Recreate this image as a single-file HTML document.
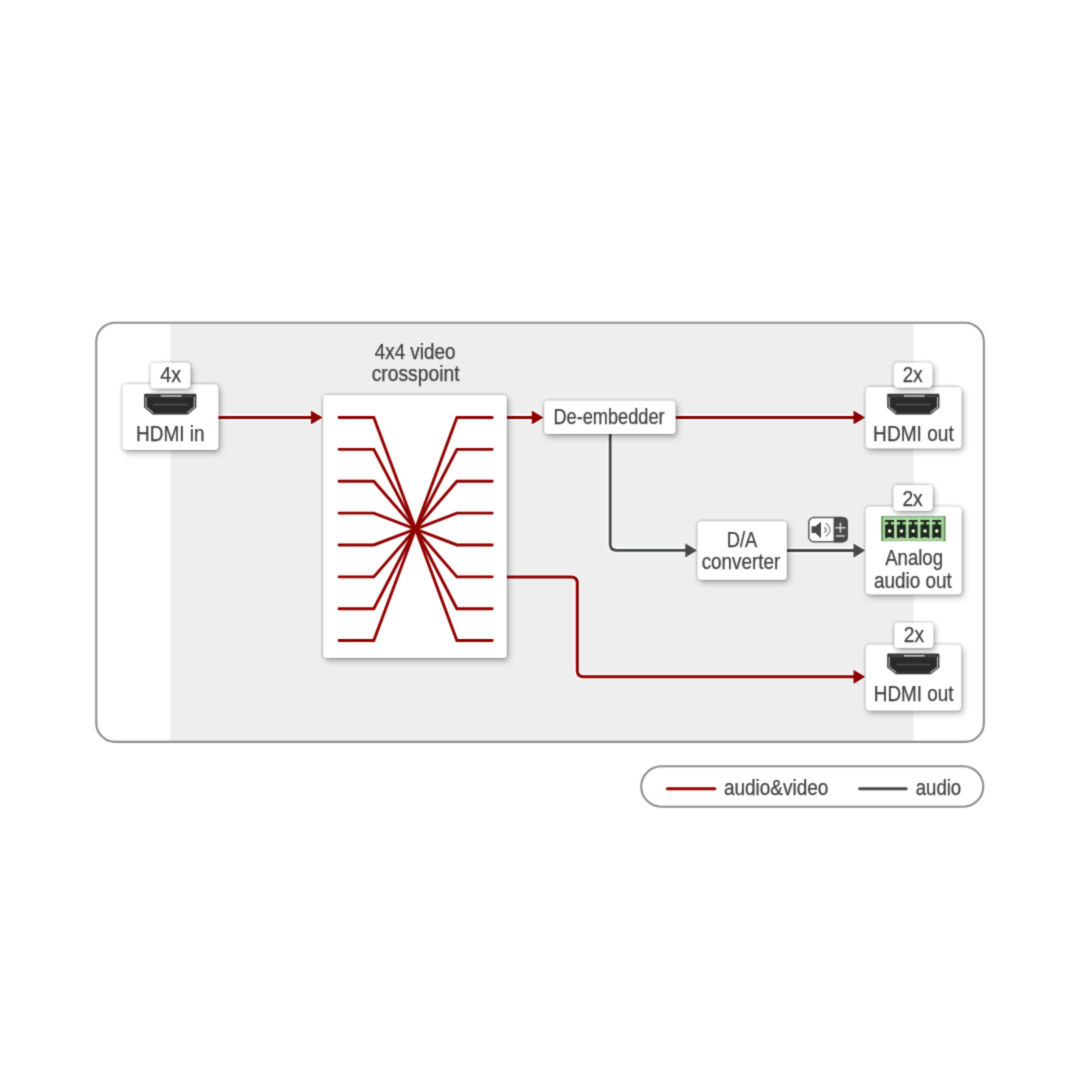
<!DOCTYPE html>
<html><head><meta charset="utf-8">
<style>
html,body{margin:0;padding:0;background:#fff;width:1080px;height:1080px;overflow:hidden}
svg{display:block;position:absolute;left:0;top:0}
#wrap{position:absolute;left:0;top:0;width:1080px;height:1080px}
text{font-family:"Liberation Sans",sans-serif;font-size:22px;fill:#404040;stroke:#404040;stroke-width:0.25px}
</style></head><body><div id="wrap">
<svg width="1080" height="1080" viewBox="0 0 1080 1080">
<defs>
  <filter id="soft" x="0" y="0" width="1080" height="1080" filterUnits="userSpaceOnUse" color-interpolation-filters="sRGB"><feConvolveMatrix order="3" kernelMatrix="1 4 1 4 16 4 1 4 1" divisor="36" edgeMode="none"/></filter>
  <filter id="sh" x="-30%" y="-30%" width="160%" height="160%">
    <feGaussianBlur in="SourceAlpha" stdDeviation="1.5" result="b1"/>
    <feOffset in="b1" dx="0" dy="0.2" result="o1"/>
    <feComponentTransfer in="o1" result="c1"><feFuncA type="linear" slope="0.4"/></feComponentTransfer>
    <feGaussianBlur in="SourceAlpha" stdDeviation="3" result="b2"/>
    <feOffset in="b2" dx="1.5" dy="2.5" result="o2"/>
    <feComponentTransfer in="o2" result="c2"><feFuncA type="linear" slope="0.3"/></feComponentTransfer>
    <feMerge><feMergeNode in="c2"/><feMergeNode in="c1"/><feMergeNode in="SourceGraphic"/></feMerge>
  </filter>
  <g id="hdmi">
    <path d="M1.3,0 H50.9 Q52.2,0 52.2,1.3 V13.9 L43.7,20.7 H8.5 L0,13.9 V1.3 Q0,0 1.3,0 Z" fill="#333"/>
    <path d="M3.4,4 H48.8 V13 L42.2,18.2 H10 L3.4,13 Z" fill="#2a2a2a"/>
    <path d="M1.9,3.2 V13.5 L9.2,19.2" fill="none" stroke="#b8b8b8" stroke-width="1.1"/>
    <path d="M50.3,3.2 V13.5 L43,19.2" fill="none" stroke="#b8b8b8" stroke-width="1.1"/>
    <rect x="16.6" y="1.4" width="21" height="1.6" fill="#c6c6c6"/>
    <path d="M3,2.4 H15 M39.2,2.4 H49.2" stroke="#5a5a5a" stroke-width="0.9"/>
    <path d="M9,10.9 H43.5" stroke="#4e4e4e" stroke-width="1.6"/>
    <path d="M19,5 V9 M26.1,5 V9 M33.2,5 V9 M19,13 V18 M26.1,13 V18 M33.2,13 V18" stroke="#333" stroke-width="0.8"/>
  </g>
  <g id="term">
    <rect x="0" y="0" width="64" height="25.2" fill="#9fd08e" stroke="#6b9a62" stroke-width="1"/>
  </g>
</defs>

<g filter="url(#soft)">
<!-- outer frame -->
<rect x="170.5" y="323.8" width="743.1" height="417" fill="#eeeeee"/>
<rect x="96.25" y="322.8" width="887.6" height="419.1" rx="19" ry="19" fill="none" stroke="#8e8e8e" stroke-width="2.1"/>

<!-- connection lines: halos -->
<g fill="none" stroke="#f8fcfc" stroke-width="6.4" stroke-opacity="1">
  <path d="M218,417.5 H312"/>
  <path d="M507,417.5 H532"/>
  <path d="M675.4,417.5 H854"/>
  <path d="M507,576.9 H571 Q577.3,576.9 577.3,583 V670.5 Q577.3,676.8 583.5,676.8 H854"/>
  <path d="M610.2,434 V544 Q610.2,550.3 616.5,550.3 H686"/>
  <path d="M786.8,550.5 H854"/>
</g>
<path d="M322.6,417.5 L310.90,410.40 V424.60 Z M543.5,417.5 L531.80,410.40 V424.60 Z M865.2,417.5 L853.50,410.40 V424.60 Z M865.2,676.8 L853.50,669.70 V683.90 Z M697,550.4 L685.30,543.30 V557.50 Z M865.2,550.6 L853.50,543.50 V557.70 Z" fill="#f8fcfc" stroke="#f8fcfc" stroke-width="2.6" stroke-linejoin="round"/>
<g fill="none" stroke="#8c0000" stroke-width="3">
  <path d="M218,417.5 H314"/>
  <path d="M507,417.5 H534"/>
  <path d="M675.4,417.5 H856"/>
  <path d="M507,576.9 H571 Q577.3,576.9 577.3,583 V670.5 Q577.3,676.8 583.5,676.8 H856"/>
</g>
<g fill="none" stroke="#474747" stroke-width="2.8">
  <path d="M610.2,434 V544 Q610.2,550.3 616.5,550.3 H688"/>
  <path d="M786.8,550.5 H856"/>
</g>
<!-- arrowheads -->
<path d="M322.6,417.5 L310.90,410.40 V424.60 Z M543.5,417.5 L531.80,410.40 V424.60 Z M865.2,417.5 L853.50,410.40 V424.60 Z M865.2,676.8 L853.50,669.70 V683.90 Z" fill="#8c0000"/>
<path d="M697,550.4 L685.30,543.30 V557.50 Z M865.2,550.6 L853.50,543.50 V557.70 Z" fill="#474747"/>

<!-- boxes -->
<g fill="#fff">
  <rect x="122.5" y="384.2" width="95.8" height="65.8" rx="4" filter="url(#sh)"/>
  <rect x="150.8" y="362.8" width="39.5" height="25.5" rx="4" filter="url(#sh)"/>
  <rect x="323.3" y="395" width="183.4" height="262.9" rx="3.5" filter="url(#sh)"/>
  <rect x="544.2" y="400.8" width="131.2" height="33.1" rx="4" filter="url(#sh)"/>
  <rect x="865.8" y="386.9" width="95.6" height="61.4" rx="4" filter="url(#sh)"/>
  <rect x="893.8" y="362.8" width="38.5" height="24.6" rx="4" filter="url(#sh)"/>
  <rect x="697.6" y="521.2" width="89.2" height="58.6" rx="4" filter="url(#sh)"/>
  <rect x="865.8" y="506.7" width="95.7" height="87.6" rx="4" filter="url(#sh)"/>
  <rect x="893.5" y="485.1" width="39.1" height="25.6" rx="4" filter="url(#sh)"/>
  <rect x="865.9" y="644.8" width="95.2" height="65.8" rx="4" filter="url(#sh)"/>
  <rect x="894.4" y="622.8" width="38.9" height="25.3" rx="4" filter="url(#sh)"/>
</g>

<!-- crosspoint lines -->
<g fill="none" stroke="#900000" stroke-width="2.9" stroke-linejoin="miter" stroke-linecap="round">
  <path d="M339,417.48 H373.8 L415.5,529.03 L456.9,640.57 H492.2"/>
  <path d="M339,449.35 H373.8 L415.5,529.03 L456.9,608.70 H492.2"/>
  <path d="M339,481.22 H373.8 L415.5,529.03 L456.9,576.83 H492.2"/>
  <path d="M339,513.09 H373.8 L415.5,529.03 L456.9,544.96 H492.2"/>
  <path d="M339,544.96 H373.8 L415.5,529.03 L456.9,513.09 H492.2"/>
  <path d="M339,576.83 H373.8 L415.5,529.03 L456.9,481.22 H492.2"/>
  <path d="M339,608.70 H373.8 L415.5,529.03 L456.9,449.35 H492.2"/>
  <path d="M339,640.57 H373.8 L415.5,529.03 L456.9,417.48 H492.2"/>
</g>

<!-- icons -->
<use href="#hdmi" x="144.1" y="393.7"/>
<use href="#hdmi" x="887.2" y="393.7"/>
<use href="#hdmi" x="887.2" y="653.6"/>

<!-- terminal block -->
<g transform="translate(881.4,516)">
  <rect x="0" y="0" width="64" height="25.1" fill="#a6d69a"/>
  <rect x="0" y="0" width="64" height="1.2" fill="#88ab84"/>
  <rect x="0" y="23.9" width="64" height="1.2" fill="#9bbd94"/>
  <rect x="0" y="0" width="1.6" height="25.1" fill="#5f8c59"/>
  <rect x="62.4" y="0" width="1.6" height="25.1" fill="#5f8c59"/>
  <g fill="#b9dcb0">
    <rect x="13.2" y="1.5" width="2" height="22"/><rect x="25" y="1.5" width="2" height="22"/><rect x="36.8" y="1.5" width="2" height="22"/><rect x="48.6" y="1.5" width="2" height="22"/>
  </g>
  <g fill="#1d2a1b">
    <path d="M3.70,4 H12.60 V6.1 H9.40 V8.6 H12.60 V22.2 L8.15,20.9 L3.70,22.2 V8.6 H6.90 V6.1 H3.70 Z"/>
    <path d="M15.50,4 H24.40 V6.1 H21.20 V8.6 H24.40 V22.2 L19.95,20.9 L15.50,22.2 V8.6 H18.70 V6.1 H15.50 Z"/>
    <path d="M27.30,4 H36.20 V6.1 H33.00 V8.6 H36.20 V22.2 L31.75,20.9 L27.30,22.2 V8.6 H30.50 V6.1 H27.30 Z"/>
    <path d="M39.10,4 H48.00 V6.1 H44.80 V8.6 H48.00 V22.2 L43.55,20.9 L39.10,22.2 V8.6 H42.30 V6.1 H39.10 Z"/>
    <path d="M50.90,4 H59.80 V6.1 H56.60 V8.6 H59.80 V22.2 L55.35,20.9 L50.90,22.2 V8.6 H54.10 V6.1 H50.90 Z"/>
    </g>
  <g fill="#fff">
    <circle cx="8.20" cy="14.9" r="1.75"/>
    <circle cx="20.00" cy="14.9" r="1.75"/>
    <circle cx="31.80" cy="14.9" r="1.75"/>
    <circle cx="43.60" cy="14.9" r="1.75"/>
    <circle cx="55.40" cy="14.9" r="1.75"/>
    </g>
</g>

<!-- speaker icon -->
<g>
  <rect x="808.8" y="517.6" width="38.3" height="24.2" rx="5" fill="#fff" stroke="#5a5a5a" stroke-width="1.5"/>
  <path d="M833.6,516.9 H842.8 A5,5 0 0 1 847.8,521.9 V537.5 A5,5 0 0 1 842.8,542.5 H833.6 Z" fill="#4a4a4a"/>
  <path d="M811.5,526.3 H815.5 L821,521.8 V538.2 L815.5,533 H811.5 Z" fill="#4a4a4a"/>
  <path d="M824.3,527.4 Q828,529.9 824.3,532.4" fill="none" stroke="#7a7a7a" stroke-width="1.4"/>
  <path d="M825.6,523.2 Q834.6,529.8 825.6,536.4" fill="none" stroke="#8a8a8a" stroke-width="1.3"/>
  <path d="M835.3,527.8 H845.6 M840.4,522.6 V532.8 M836.1,536.1 H844.8" stroke="#d8d8d8" stroke-width="1.5"/>
</g>

<!-- texts -->
<text x="160.28" y="382.2" textLength="20.80" lengthAdjust="spacingAndGlyphs">4x</text>
<text x="136.12" y="441" textLength="68.32" lengthAdjust="spacingAndGlyphs">HDMI in</text>
<text x="374.74" y="358.6" textLength="80.72" lengthAdjust="spacingAndGlyphs">4x4 video</text>
<text x="371.66" y="380.8" textLength="87.88" lengthAdjust="spacingAndGlyphs">crosspoint</text>
<text x="553.48" y="424.2" textLength="111.06" lengthAdjust="spacingAndGlyphs">De-embedder</text>
<text x="902.74" y="382.2" textLength="19.80" lengthAdjust="spacingAndGlyphs">2x</text>
<text x="873.12" y="441.2" textLength="80.60" lengthAdjust="spacingAndGlyphs">HDMI out</text>
<text x="726.66" y="546.7" textLength="30.60" lengthAdjust="spacingAndGlyphs">D/A</text>
<text x="701.66" y="568.9" textLength="78.52" lengthAdjust="spacingAndGlyphs">converter</text>
<text x="902.38" y="505.9" textLength="20.34" lengthAdjust="spacingAndGlyphs">2x</text>
<text x="885.18" y="564.9" textLength="57.88" lengthAdjust="spacingAndGlyphs">Analog</text>
<text x="874.02" y="588.3" textLength="77.80" lengthAdjust="spacingAndGlyphs">audio out</text>
<text x="903.84" y="642.2" textLength="20.34" lengthAdjust="spacingAndGlyphs">2x</text>
<text x="873.84" y="701.1" textLength="79.70" lengthAdjust="spacingAndGlyphs">HDMI out</text>

<!-- legend -->
<rect x="641.2" y="766.2" width="342.1" height="40.6" rx="20.3" fill="#fff" stroke="#8e8e8e" stroke-width="2.1"/>
<path d="M667.4,788.7 H714.8" stroke="#930000" stroke-width="3" stroke-linecap="round"/>
<path d="M859.6,788.7 H906.1" stroke="#474747" stroke-width="3" stroke-linecap="round"/>
<text x="723.92" y="794.8" textLength="104.52" lengthAdjust="spacingAndGlyphs">audio&amp;video</text>
<text x="915.74" y="794.8" textLength="45.42" lengthAdjust="spacingAndGlyphs">audio</text>
</g>
</svg></div>
</body></html>
